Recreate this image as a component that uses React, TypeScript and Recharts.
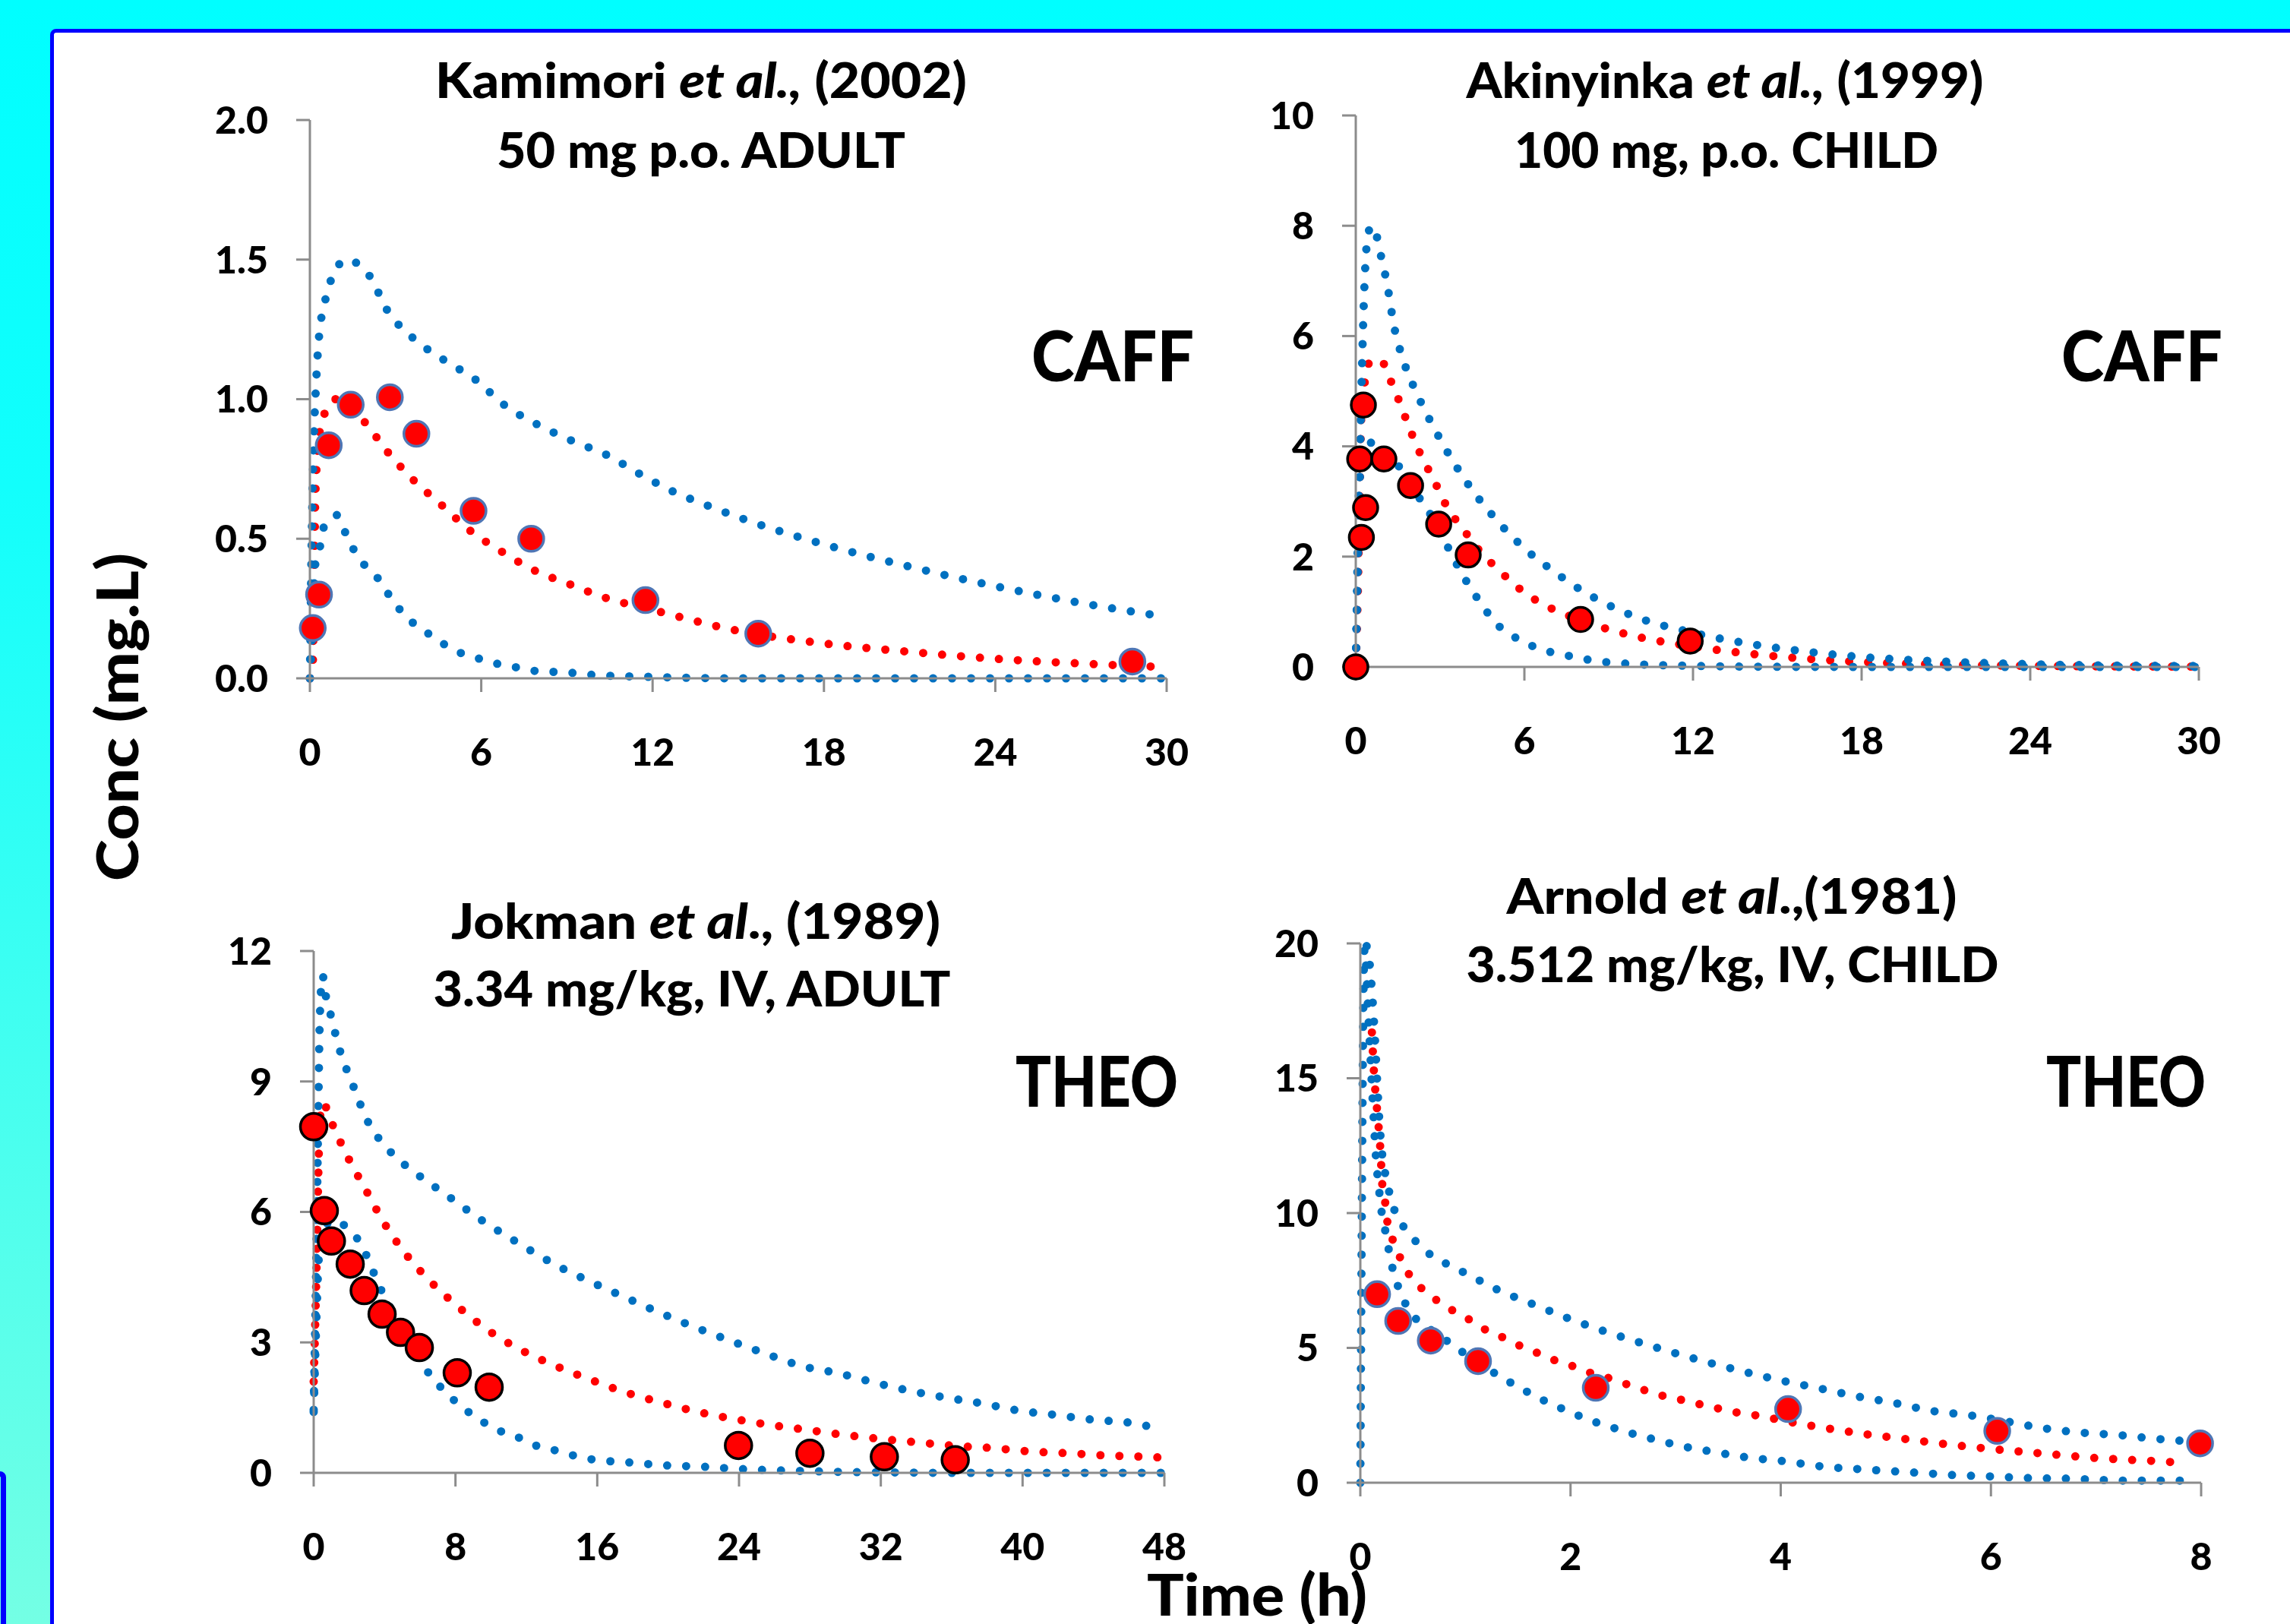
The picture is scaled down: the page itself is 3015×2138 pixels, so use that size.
import React from "react";
import { ComposedChart, Line, Scatter, XAxis, YAxis } from "recharts";

type Pair = [number, number];

// ---------- Kamimori et al. (2002) CAFF 50 mg p.o. ADULT ----------
const kamObserved: Pair[] = [
  [0.1, 0.18], [0.32, 0.3], [0.66, 0.835], [1.43, 0.98], [2.8, 1.007], [3.73, 0.876],
  [5.73, 0.6], [7.75, 0.5], [11.75, 0.28], [15.7, 0.16], [28.8, 0.06],
];
const kamUpper: Pair[] = [
  [0, 0], [0.08, 0.6], [0.15, 0.9], [0.2, 1.02], [0.3, 1.2], [0.55, 1.36], [0.75, 1.43],
  [1.0, 1.48], [1.3, 1.5], [1.6, 1.49], [2.1, 1.44], [2.7, 1.32], [3.6, 1.22], [4.7, 1.14],
  [5.8, 1.07], [6.8, 0.98], [7.95, 0.91], [9.2, 0.85], [10.4, 0.8], [11.5, 0.735],
  [12.7, 0.67], [13.9, 0.62], [15.2, 0.57], [18, 0.48], [21, 0.4], [24, 0.33], [27, 0.27], [30, 0.22],
];
const kamMedian: Pair[] = [
  [0, 0], [0.1, 0.05], [0.13, 0.2], [0.16, 0.41], [0.18, 0.6], [0.23, 0.75], [0.34, 0.88],
  [0.52, 0.95], [0.9, 1.0], [1.3, 0.98], [1.9, 0.92], [2.73, 0.81], [3.63, 0.71], [4.62, 0.62],
  [5.6, 0.53], [6.7, 0.455], [7.87, 0.386], [9.1, 0.337], [10.3, 0.29], [12, 0.245], [15, 0.17],
  [18, 0.125], [21, 0.095], [24, 0.07], [27, 0.053], [30, 0.04],
];
const kamLower: Pair[] = [
  [0, 0], [0.1, 0.2], [0.19, 0.41], [0.35, 0.47], [0.48, 0.54], [0.7, 0.57], [0.93, 0.585],
  [1.25, 0.52], [1.54, 0.46], [1.92, 0.405], [2.39, 0.357], [2.76, 0.3], [3.16, 0.245],
  [3.64, 0.196], [4.18, 0.158], [4.7, 0.122], [5.3, 0.09], [5.9, 0.071], [6.57, 0.052],
  [7.2, 0.04], [7.85, 0.027], [9.15, 0.02], [9.8, 0.013], [12, 0.005], [15, 0], [20, 0], [25, 0], [30, 0],
];

// ---------- Akinyinka et al. (1999) CAFF 100 mg p.o. CHILD ----------
const akiObserved: Pair[] = [
  [0, 0], [0.27, 4.75], [0.14, 3.77], [1.0, 3.77], [0.35, 2.89], [0.2, 2.35],
  [1.95, 3.29], [2.95, 2.59], [4.0, 2.03], [8.0, 0.86], [11.9, 0.47],
];
const akiUpper: Pair[] = [
  [0, 0], [0.1, 2.5], [0.2, 5], [0.3, 6.8], [0.4, 7.7], [0.55, 8.0], [0.7, 7.9], [0.84, 7.58],
  [1.13, 6.9], [1.35, 6.21], [1.7, 5.55], [2.2, 4.93], [2.8, 4.32], [3.46, 3.73], [4.2, 3.17],
  [5.0, 2.67], [6, 2.15], [7, 1.75], [8, 1.4], [9, 1.12], [10, 0.9], [12, 0.62], [14, 0.42],
  [16, 0.28], [18, 0.18], [20, 0.12], [24, 0.05], [30, 0.015],
];
const akiMedian: Pair[] = [
  [0, 0], [0.08, 1.5], [0.15, 3.5], [0.19, 4.46], [0.32, 5.17], [0.46, 5.5], [0.7, 5.58],
  [0.92, 5.55], [1.19, 5.25], [1.46, 4.93], [1.7, 4.61], [1.95, 4.28], [2.2, 3.97], [2.5, 3.66],
  [2.8, 3.37], [3.08, 3.06], [3.43, 2.76], [3.8, 2.51], [4.5, 2.05], [5, 1.8], [6, 1.35],
  [7, 1.05], [8, 0.85], [9, 0.68], [10, 0.55], [12, 0.37], [14, 0.24], [16, 0.15], [18, 0.09],
  [20, 0.055], [24, 0.02], [30, 0.005],
];
const akiLower: Pair[] = [
  [0, 0], [0.05, 1.5], [0.1, 3.0], [0.2, 3.7], [0.35, 4.0], [0.6, 4.07], [1.0, 3.95], [1.5, 3.66],
  [2.2, 3.11], [2.57, 2.84], [3.0, 2.45], [3.5, 1.95], [4.0, 1.5], [4.5, 1.12], [4.97, 0.8],
  [5.46, 0.6], [6.0, 0.45], [6.57, 0.32], [7.2, 0.24], [7.8, 0.18], [8.4, 0.12], [10, 0.05],
  [12, 0.02], [14, 0.005], [18, 0], [24, 0], [30, 0],
];

// ---------- Jokman et al. (1989) THEO 3.34 mg/kg IV ADULT ----------
const jokObserved: Pair[] = [
  [0, 7.96], [0.6, 6.03], [1.0, 5.33], [2.06, 4.8], [2.85, 4.19], [3.86, 3.65], [4.9, 3.23],
  [5.96, 2.88], [8.1, 2.3], [9.9, 1.97], [23.97, 0.63], [28, 0.45], [32.2, 0.37], [36.2, 0.3],
];
const jokUpper: Pair[] = [
  [0, 1.45], [0.15, 5], [0.25, 8], [0.35, 10.5], [0.5, 11.44], [0.67, 11.0], [0.93, 10.58],
  [1.45, 9.75], [2.2, 8.93], [3.03, 8.1], [4.25, 7.42], [5.9, 6.85], [7.6, 6.36], [9.33, 5.85],
  [11.16, 5.38], [13.9, 4.73], [15.76, 4.37], [17.6, 4.03], [19.6, 3.67], [21.5, 3.35],
  [23.5, 3.04], [25.5, 2.74], [27.5, 2.46], [29.6, 2.29], [31.6, 2.08], [33.6, 1.89],
  [35.7, 1.73], [37.8, 1.59], [39.8, 1.43], [41.9, 1.33], [44, 1.22], [46.1, 1.15], [47.1, 1.07],
];
const jokMedian: Pair[] = [
  [0, 2.1], [0.15, 4.5], [0.3, 7.5], [0.45, 8.5], [0.6, 8.47], [1.0, 8.07], [1.9, 7.28],
  [2.95, 6.5], [4.0, 5.73], [5.2, 5.03], [6.64, 4.38], [8.24, 3.79], [9.94, 3.25], [11.87, 2.79],
  [13.7, 2.45], [15.7, 2.13], [17.6, 1.85], [19.6, 1.62], [21.6, 1.41], [23.7, 1.24], [25.8, 1.1],
  [27.8, 0.99], [30, 0.87], [32, 0.78], [34.1, 0.7], [36.2, 0.62], [38.3, 0.57], [40.5, 0.49],
  [42.6, 0.45], [44.7, 0.4], [46.9, 0.37], [48, 0.35],
];
const jokLower: Pair[] = [
  [0, 1.4], [0.15, 3.5], [0.3, 5.0], [0.6, 5.6], [1.0, 5.8], [1.3, 5.8], [1.76, 5.68], [2.5, 5.36],
  [3.0, 4.98], [3.43, 4.56], [3.86, 4.16], [4.5, 3.65], [5.2, 3.05], [5.96, 2.64], [6.56, 2.25],
  [7.24, 1.94], [8.0, 1.64], [8.8, 1.38], [9.77, 1.12], [10.7, 0.93], [11.7, 0.79], [12.65, 0.61],
  [13.7, 0.51], [14.66, 0.4], [15.7, 0.31], [17.8, 0.24], [19.9, 0.17], [22, 0.14], [24, 0.09],
  [26, 0.06], [28, 0.04], [30, 0.02], [33, 0.01], [36, 0], [40, 0], [44, 0], [48, 0],
];

// ---------- Arnold et al. (1981) THEO 3.512 mg/kg IV CHILD ----------
const arnObserved: Pair[] = [
  [0.16, 6.99], [0.36, 6.0], [0.67, 5.27], [1.12, 4.51], [2.24, 3.52], [4.07, 2.73],
  [6.06, 1.92], [7.99, 1.46],
];
const arnUpper: Pair[] = [
  [0.06, 19.9], [0.09, 19.2], [0.12, 17.7], [0.14, 16.4], [0.16, 14.9], [0.18, 13.5],
  [0.21, 12.1], [0.24, 11.4], [0.28, 10.7], [0.33, 10.05], [0.43, 9.4], [0.54, 8.9],
  [0.68, 8.42], [0.84, 8.08], [1.0, 7.77], [1.32, 7.13], [1.65, 6.61], [1.99, 6.08],
  [2.32, 5.62], [2.66, 5.2], [3.0, 4.8], [3.35, 4.42], [3.69, 4.08], [4.03, 3.77],
  [4.38, 3.49], [4.73, 3.2], [5.08, 2.96], [5.43, 2.67], [5.8, 2.5], [6.15, 2.27],
  [6.5, 2.02], [6.85, 1.86], [7.21, 1.77], [7.57, 1.63], [7.8, 1.56],
];
const arnMedian: Pair[] = [
  [0.11, 16.7], [0.13, 15.2], [0.16, 13.8], [0.19, 12.4], [0.21, 11.0], [0.24, 10.3],
  [0.26, 9.6], [0.32, 8.9], [0.39, 8.25], [0.48, 7.63], [0.6, 7.15], [0.74, 6.73], [0.9, 6.34],
  [1.06, 6.0], [1.21, 5.63], [1.38, 5.35], [1.54, 5.04], [1.7, 4.79], [1.87, 4.51], [2.04, 4.3],
  [2.2, 4.06], [2.38, 3.86], [2.55, 3.63], [2.73, 3.4], [2.9, 3.2], [3.06, 3.07], [3.24, 2.9],
  [3.41, 2.75], [3.59, 2.6], [3.76, 2.5], [3.94, 2.37], [4.12, 2.23], [4.47, 2.0], [4.81, 1.8],
  [5.17, 1.63], [5.53, 1.45], [5.88, 1.3], [6.24, 1.17], [6.59, 1.05], [6.95, 0.93],
  [7.31, 0.85], [7.67, 0.78], [7.85, 0.73],
];
const arnLower: Pair[] = [
  [0, 0], [0.04, 19.8], [0.08, 17], [0.12, 14], [0.15, 12], [0.18, 10.8], [0.21, 9.83],
  [0.25, 9.13], [0.28, 8.42], [0.32, 7.75], [0.38, 7.07], [0.46, 6.42], [0.58, 5.9],
  [0.72, 5.55], [0.87, 5.13], [1.1, 4.5], [1.33, 3.94], [1.49, 3.58], [1.65, 3.24],
  [1.81, 2.93], [1.98, 2.65], [2.15, 2.37], [2.32, 2.14], [2.49, 1.94], [2.65, 1.75],
  [2.83, 1.58], [3.0, 1.41], [3.35, 1.15], [3.7, 0.93], [4.05, 0.79], [4.4, 0.6], [4.77, 0.5],
  [5.3, 0.37], [5.67, 0.28], [6.02, 0.23], [6.38, 0.17], [6.74, 0.15], [7.28, 0.08], [7.83, 0.08],
];

// ---------- axis ticks ----------
const cafTimeTicks = [0, 6, 12, 18, 24, 30];
const kamConcTicks = [0, 0.5, 1.0, 1.5, 2.0];
const akiConcTicks = [0, 2, 4, 6, 8, 10];
const jokTimeTicks = [0, 8, 16, 24, 32, 40, 48];
const jokConcTicks = [0, 3, 6, 9, 12];
const arnTimeTicks = [0, 2, 4, 6, 8];
const arnConcTicks = [0, 5, 10, 15, 20];

const FONT = "Lato, 'Open Sans', sans-serif";
const AXIS = "#8C8C8C";
const BLUE = "#0070C0";
const RED = "#FF0000";

const toPts = (a: Pair[]) => a.map(([t, c]) => ({ t, c }));

type Cfg = {
  x0: number; x1: number; y0: number; y1: number;
  xTicks: number[]; yTicks: number[]; fmt?: (v: number) => string;
  upper: Pair[]; median: Pair[]; lower: Pair[]; observed: Pair[];
  mStroke: string; mR: number;
};

const panels: Cfg[] = [
  { x0: 408, x1: 1536, y0: 158, y1: 893, xTicks: cafTimeTicks, yTicks: kamConcTicks,
    fmt: (v) => v.toFixed(1), upper: kamUpper, median: kamMedian, lower: kamLower,
    observed: kamObserved, mStroke: "#4F76B5", mR: 16.5 },
  { x0: 1785, x1: 2895, y0: 152, y1: 878, xTicks: cafTimeTicks, yTicks: akiConcTicks,
    upper: akiUpper, median: akiMedian, lower: akiLower, observed: akiObserved,
    mStroke: "#000000", mR: 16 },
  { x0: 413, x1: 1533, y0: 1252, y1: 1939, xTicks: jokTimeTicks, yTicks: jokConcTicks,
    upper: jokUpper, median: jokMedian, lower: jokLower, observed: jokObserved,
    mStroke: "#000000", mR: 17.5 },
  { x0: 1791, x1: 2898, y0: 1242, y1: 1952, xTicks: arnTimeTicks, yTicks: arnConcTicks,
    upper: arnUpper, median: arnMedian, lower: arnLower, observed: arnObserved,
    mStroke: "#4F76B5", mR: 16.5 },
];

function Panel({ cfg }: { cfg: Cfg }) {
  const padL = 200, padT = 30, padR = 60, xAxisH = 150;
  const plotW = cfg.x1 - cfg.x0;
  const plotH = cfg.y1 - cfg.y0;
  const width = plotW + padL + padR;
  const height = plotH + padT + xAxisH;
  const xMax = cfg.xTicks[cfg.xTicks.length - 1];
  const yMax = cfg.yTicks[cfg.yTicks.length - 1];
  const tickStyle = { fill: "#000", fontSize: 50, fontWeight: 900, fontFamily: FONT };
  const dotted = {
    type: "monotone" as const, dataKey: "c", strokeWidth: 11, strokeDasharray: "0 25",
    strokeLinecap: "round" as const, dot: false, activeDot: false, isAnimationActive: false,
  };
  return (
    <div style={{ position: "absolute", left: cfg.x0 - padL, top: cfg.y0 - padT, width, height }}>
      <ComposedChart width={width} height={height} margin={{ top: padT, right: padR, bottom: 0, left: 0 }}>
        <XAxis type="number" dataKey="t" domain={[0, xMax]} ticks={cfg.xTicks} interval={0}
          height={xAxisH} tickSize={18} tickMargin={61}
          axisLine={{ stroke: AXIS, strokeWidth: 3 }} tickLine={{ stroke: AXIS, strokeWidth: 3 }}
          tick={tickStyle} />
        <YAxis type="number" dataKey="c" domain={[0, yMax]} ticks={cfg.yTicks} interval={0}
          width={padL} tickSize={18} tickMargin={37} tickFormatter={cfg.fmt}
          axisLine={{ stroke: AXIS, strokeWidth: 3 }} tickLine={{ stroke: AXIS, strokeWidth: 3 }}
          tick={tickStyle} />
        <Line {...dotted} data={toPts(cfg.median)} stroke={RED} />
        <Line {...dotted} data={toPts(cfg.upper)} stroke={BLUE} />
        <Line {...dotted} data={toPts(cfg.lower)} stroke={BLUE} />
        <Scatter data={toPts(cfg.observed)} dataKey="c" isAnimationActive={false}
          shape={(p: any) => (
            <circle cx={p.cx} cy={p.cy} r={cfg.mR} fill={RED} stroke={cfg.mStroke} strokeWidth={3.5} />
          )} />
      </ComposedChart>
    </div>
  );
}

const W = 3015;
const H = 2138;

export default function App() {
  const title = { fontFamily: FONT, fontWeight: 900, fontSize: 64, fill: "#000", textAnchor: "middle" as const,
    lengthAdjust: "spacingAndGlyphs" as const };
  const big = { fontFamily: FONT, fontWeight: 900, fontSize: 92, fill: "#000", textAnchor: "middle" as const,
    lengthAdjust: "spacingAndGlyphs" as const };
  return (
    <div style={{
      position: "absolute", left: 0, top: 0, width: W, height: H, overflow: "hidden",
      background: "linear-gradient(180deg, #00FFFF 0%, #12FFFC 30%, #74FFE4 100%)",
    }}>
      <div style={{ position: "absolute", left: -200, top: 1937, width: 208, height: 400,
        border: "7px solid #0000FF", borderRadius: 8, boxSizing: "border-box" }} />
      <div style={{ position: "absolute", left: 66, top: 38, width: 3100, height: 2300,
        background: "#FFFFFF", border: "5px solid #0000FF", borderRadius: 8, boxSizing: "border-box" }} />
      {panels.map((p, i) => <Panel key={i} cfg={p} />)}
      <svg width={W} height={H} style={{ position: "absolute", left: 0, top: 0, pointerEvents: "none" }}>
        <text {...title} x={923} y={129} textLength={700}>Kamimori <tspan fontStyle="italic">et al.,</tspan> (2002)</text>
        <text {...title} x={923} y={221} textLength={538}>50 mg p.o. ADULT</text>
        <text {...title} x={2271} y={129} textLength={681}>Akinyinka <tspan fontStyle="italic">et al.,</tspan> (1999)</text>
        <text {...title} x={2273} y={221} textLength={558}>100 mg, p.o. CHILD</text>
        <text {...title} x={916} y={1236} textLength={644}>Jokman <tspan fontStyle="italic">et al</tspan>., (1989)</text>
        <text {...title} x={911} y={1325} textLength={681}>3.34 mg/kg, IV, ADULT</text>
        <text {...title} x={2280} y={1203} textLength={593}>Arnold <tspan fontStyle="italic">et al</tspan>.,(1981)</text>
        <text {...title} x={2281} y={1293} textLength={701}>3.512 mg/kg, IV, CHILD</text>
        <text {...big} x={1465} y={502} textLength={214}>CAFF</text>
        <text {...big} x={2820} y={502} textLength={212}>CAFF</text>
        <text {...big} x={1444} y={1457} textLength={214}>THEO</text>
        <text {...big} x={2799} y={1457} textLength={210}>THEO</text>
        <text fontFamily={FONT} fontWeight={900} fontSize={77} fill="#000" textAnchor="middle"
          transform="translate(182 944) rotate(-90)" textLength={432} lengthAdjust="spacingAndGlyphs">Conc (mg.L)</text>
        <text fontFamily={FONT} fontWeight={900} fontSize={77} fill="#000" textAnchor="middle"
          x={1655} y={2127} textLength={290} lengthAdjust="spacingAndGlyphs">Time (h)</text>
      </svg>
    </div>
  );
}
